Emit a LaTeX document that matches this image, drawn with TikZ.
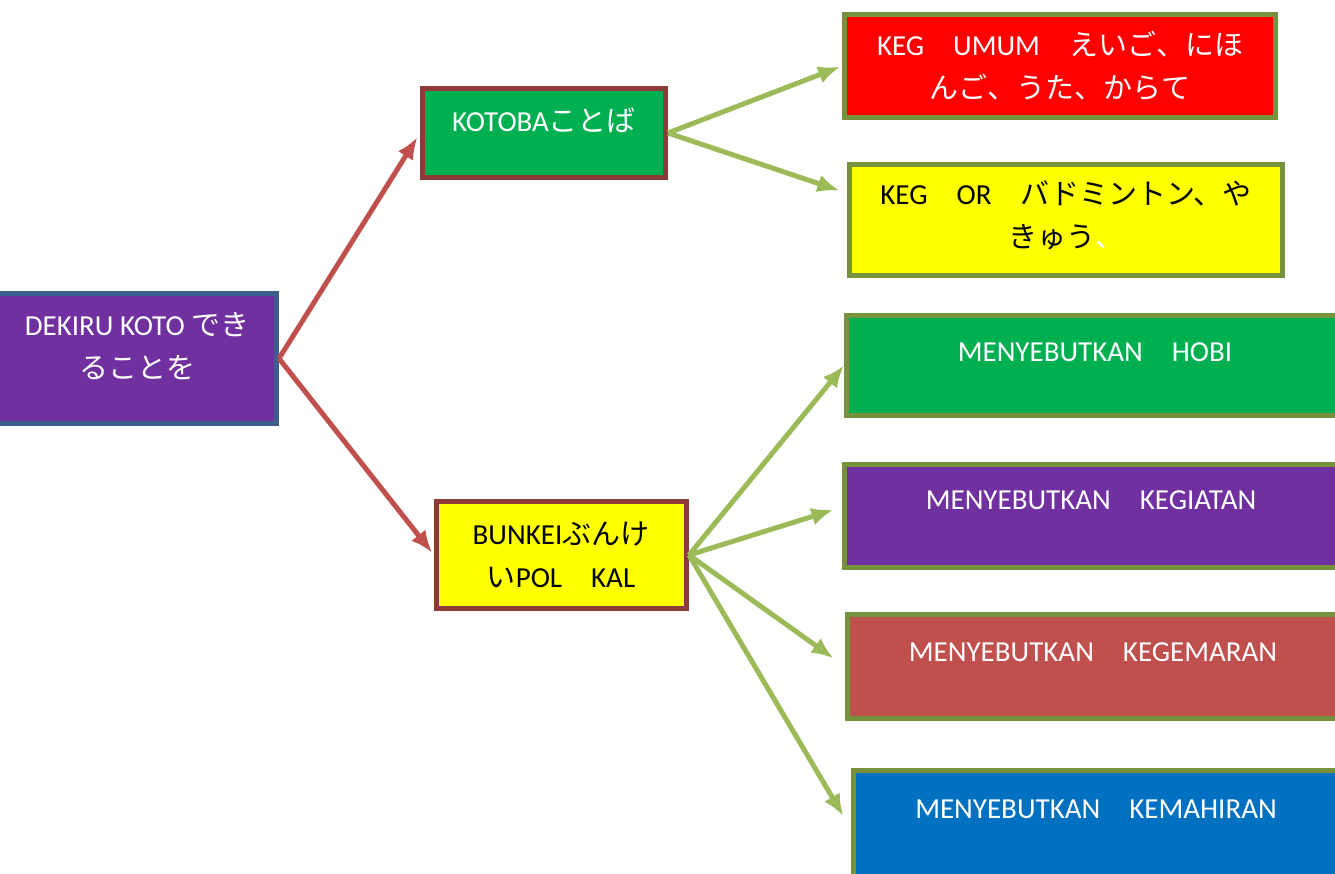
\documentclass[tikz,border=0pt]{standalone}
\usepackage{fontspec}
\setmainfont{Carlito}
\newfontfamily\jpfont{Noto Sans CJK JP}
\newcommand{\jp}[1]{{\jpfont #1}}
\usepackage{xcolor}
\usetikzlibrary{arrows.meta,positioning}
\definecolor{boxpurple}{HTML}{7030A0}
\definecolor{boxgreen}{HTML}{00B050}
\definecolor{boxred}{HTML}{FF0000}
\definecolor{boxyellow}{HTML}{FFFF00}
\definecolor{boxrose}{HTML}{C0504D}
\definecolor{boxblue}{HTML}{0070C0}
\definecolor{edgeblue}{HTML}{3C5E8C}
\definecolor{edgered}{HTML}{8E3A38}
\definecolor{edgeolive}{HTML}{76923C}
\definecolor{linkred}{HTML}{C0504D}
\definecolor{linkgreen}{HTML}{9BBB59}
\tikzset{%
	box/.style      = {draw, rectangle, line width=5pt, inner sep=0pt},
	topic/.style    = {box, draw=edgeblue},
	branch/.style   = {box, draw=edgered},
	leaf/.style     = {box, draw=edgeolive},
	boxtext/.style  = {align=center, inner sep=0pt, font=\fontsize{29}{43}\selectfont},
	redlink/.style  = {line width=5pt, draw=linkred, -{Latex[length=22pt,width=18pt]}},
	greenlink/.style= {line width=5pt, draw=linkgreen, -{Latex[length=22pt,width=18pt]}},
}

\begin{document}
\begin{tikzpicture}[x=1pt,y=-1pt]
	\useasboundingbox (0,0) rectangle (1335,873);
	
	% boxes
	\node[topic, fill=boxpurple, minimum width=284pt, minimum height=130pt] (dekiru) at (134.5,358.5) {};
	\node[branch, fill=boxgreen, minimum width=243pt, minimum height=89pt] (kotoba) at (544,133) {};
	\node[branch, fill=boxyellow, minimum width=250pt, minimum height=107pt] (bunkei) at (561.5,555) {};
	\node[leaf, fill=boxred, minimum width=431pt, minimum height=103pt] (umum) at (1060,66) {};
	\node[leaf, fill=boxyellow, minimum width=433pt, minimum height=111pt] (olahraga) at (1066,220) {};
	\node[leaf, fill=boxgreen, minimum width=496pt, minimum height=100pt] (hobi) at (1094.5,365.5) {};
	\node[leaf, fill=boxpurple, minimum width=498pt, minimum height=103pt] (kegiatan) at (1093.5,516) {};
	\node[leaf, fill=boxrose, minimum width=495pt, minimum height=104pt] (kegemaran) at (1095,666.5) {};
	\node[leaf, fill=boxblue, minimum width=489pt, minimum height=117pt] (kemahiran) at (1098,829) {};
	
	% texts
	\node[boxtext, text=white] (dekiru-t) at (137,346) {DEKIRU KOTO \jp{でき}\\\jp{ることを}};
	\node[boxtext, text=white] (kotoba-t) at (544,120) {KOTOBA\jp{ことば}};
	\node[boxtext] (bunkei-t) at (561,555) {BUNKEI\jp{ぶんけ}\\\jp{い}POL\quad KAL};
	\node[boxtext, text=white] (umum-t) at (1060,66) {KEG\quad UMUM\quad \jp{えいご、にほ}\\\jp{んご、うた、からて}};
	\node[boxtext] (olahraga-t) at (1066,215) {KEG\quad OR\quad \jp{バドミントン、や}\\\jp{きゅう\textcolor{white}{、}}};
	\node[boxtext, text=white] (hobi-t) at (1095,352) {MENYEBUTKAN\quad HOBI};
	\node[boxtext, text=white] (kegiatan-t) at (1091,500) {MENYEBUTKAN\quad KEGIATAN};
	\node[boxtext, text=white] (kegemaran-t) at (1093,652) {MENYEBUTKAN\quad KEGEMARAN};
	\node[boxtext, text=white] (kemahiran-t) at (1096,809) {MENYEBUTKAN\quad KEMAHIRAN};
	
	% links
	\draw[redlink, shorten >=5pt] (dekiru.east) -- (kotoba.west);
	\draw[redlink, shorten >=3pt] (dekiru.east) -- (bunkei.west);
	\draw[greenlink, shorten >=2pt] (kotoba.east) -- (umum.west);
	\draw[greenlink, shorten >=8pt] (kotoba.east) -- (olahraga.173);
	\draw[greenlink] (bunkei.east) -- (hobi.west);
	\draw[greenlink, shorten >=9pt] (bunkei.east) -- (kegiatan.178);
	\draw[greenlink, shorten >=14pt] (bunkei.east) -- (kegemaran.west);
	\draw[greenlink, shorten >=15pt] (bunkei.east) -- (kemahiran.west);
\end{tikzpicture}
\end{document}
